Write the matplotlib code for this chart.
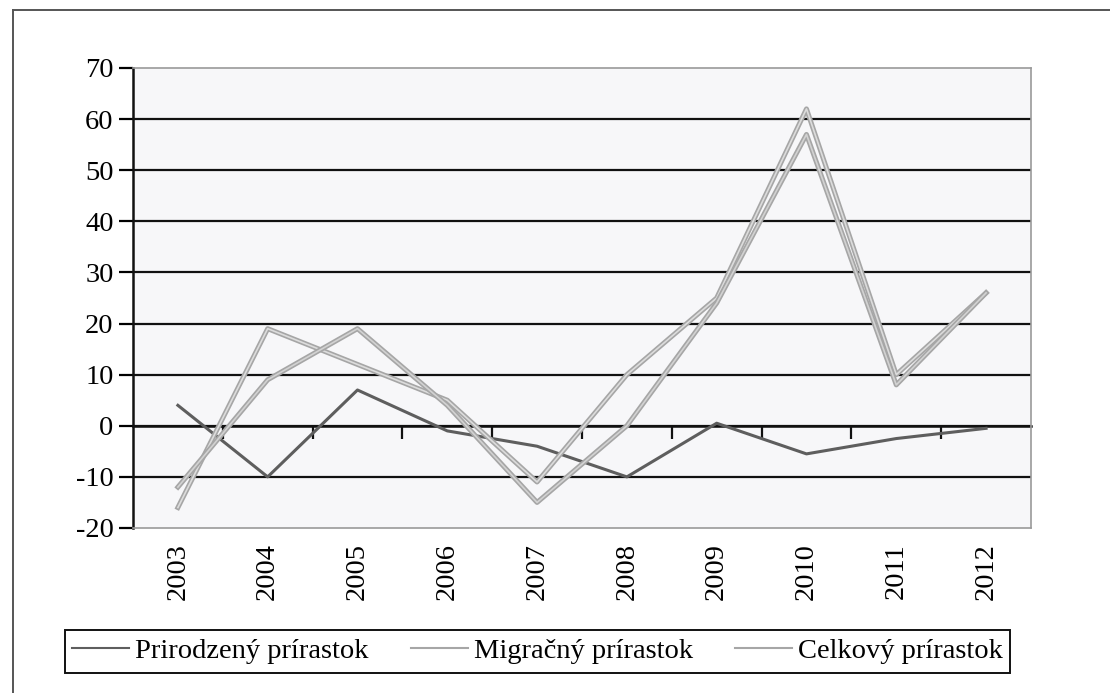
import matplotlib.pyplot as plt
import matplotlib.patheffects as pe
from matplotlib.lines import Line2D
from matplotlib.patches import Rectangle

# data
years = ["2003", "2004", "2005", "2006", "2007", "2008", "2009", "2010", "2011", "2012"]
prirodzeny = [4, -10, 7, -1, -4, -10, 0.5, -5.5, -2.5, -0.5]
migracny = [-16, 19, 12, 5, -11, 10, 25, 62, 10, 26]
celkovy = [-12, 9, 19, 4, -15, 0, 24, 57, 8, 26]

plt.rcParams["font.family"] = ["Liberation Serif", "DejaVu Serif"]
plt.rcParams["axes.unicode_minus"] = False

fig = plt.figure(figsize=(11.1, 6.93), dpi=100)
ax = fig.add_axes([0.1198, 0.2381, 0.809, 0.6638])
ax.set_facecolor("#f7f7f9")

x = list(range(len(years)))

# gridlines (black) inside the plot
for v in range(-10, 70, 10):
    ax.axhline(v, color="#111111", lw=1.6, zorder=1)

ax.plot(x, prirodzeny, color="#5e5e5e", lw=2.2, zorder=3)
double = [pe.Stroke(linewidth=3.6, foreground="#a6a6a6"), pe.Normal()]
ax.plot(x, migracny, color="#dcdcdc", lw=1.2, zorder=3, path_effects=double)
ax.plot(x, celkovy, color="#d2d2d2", lw=1.2, zorder=3, path_effects=double)

ax.set_xlim(-0.5, 9.5)
ax.set_ylim(-20, 70)
ax.set_yticks(range(-20, 80, 10))
ax.tick_params(axis="y", length=10, width=1.6, labelsize=20.5, pad=4)

ax.set_xticks(x)
ax.set_xticklabels(years, rotation=90, fontsize=20.5)
ax.tick_params(axis="x", length=0, pad=11)

for s in ["top", "right", "bottom"]:
    ax.spines[s].set_color("#9a9a9a")
    ax.spines[s].set_linewidth(1.2)
ax.spines["left"].set_color("#111111")
ax.spines["left"].set_linewidth(1.8)

# category axis drawn on the zero line with ticks between categories
zero_frac = (0 - ax.get_ylim()[0]) / (ax.get_ylim()[1] - ax.get_ylim()[0])
sec = ax.secondary_xaxis(zero_frac)
sec.set_xticks([i + 0.5 for i in range(len(years) - 1)])
sec.set_xticklabels([])
sec.tick_params(length=9, width=1.6, direction="out", color="#111111")
sec.spines["bottom"].set_color("#111111")
sec.spines["bottom"].set_linewidth(1.8)

# legend (box drawn separately)
handles = [
    Line2D([], [], color="#5e5e5e", lw=1.5),
    Line2D([], [], color="#a6a6a6", lw=1.5),
    Line2D([], [], color="#a6a6a6", lw=1.5),
]
fig.legend(handles, ["Prirodzený prírastok", "Migračný prírastok", "Celkový prírastok"],
           loc="center", bbox_to_anchor=(0.4842, 0.0599), ncol=3, fontsize=20.5,
           frameon=False, handlelength=2.0, handletextpad=0.2, borderaxespad=0,
           borderpad=0, columnspacing=1.5)
fig.add_artist(Rectangle((0.0586, 0.0289), 0.851, 0.0621, transform=fig.transFigure,
                         fill=False, edgecolor="#111111", lw=1.4))

# outer chart frame (top and left edges visible in the scan)
fig.add_artist(Line2D([0.0117, 1.0], [0.9856, 0.9856], color="#555555", lw=1.4))
fig.add_artist(Line2D([0.0117, 0.0117], [0.0, 0.9856], color="#555555", lw=1.4))

fig.savefig("out.png", dpi=100)
